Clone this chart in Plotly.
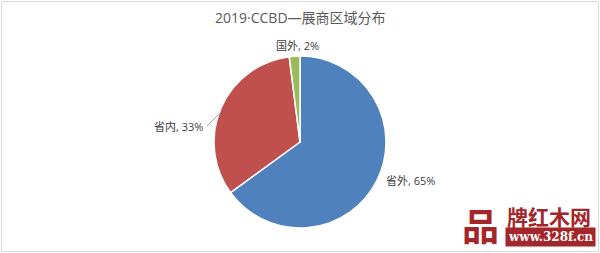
import math
import plotly.graph_objects as go

labels = ["省外", "省内", "国外"]
values = [65, 33, 2]
colors = ["#4F81BD", "#C0504D", "#9BBB59"]
title = "2019·CCBD—展商区域分布"

W, H = 600, 253
ML, MR, MT, MB = 0, 0, 56, 25
PW, PH = W - ML - MR, H - MT - MB

def px(x):
    return (x - ML) / PW

def py(y):
    return (H - MB - y) / PH

FONT = "Open Sans, Noto Sans CJK SC"

fig = go.Figure(go.Pie(
    labels=labels, values=values, sort=False, direction="clockwise", rotation=0,
    marker=dict(colors=colors, line=dict(color="white", width=1.5)),
    textinfo="none", hoverinfo="label+percent", showlegend=False,
    domain=dict(x=[0, 1], y=[0, 1]),
))

label_pos = [(410, 180), (178, 127), (297, 46)]
anns = []
for (lx, ly), lab, v in zip(label_pos, labels, values):
    anns.append(dict(x=px(lx), y=py(ly), xref="paper", yref="paper",
                     xanchor="center", yanchor="middle",
                     text=f"{lab}, {v}%", showarrow=False,
                     font=dict(size=11, color="#404040", family=FONT)))

anns.append(dict(x=px(300), y=py(17), xref="paper", yref="paper", text=title, showarrow=False,
                 xanchor="center", yanchor="middle",
                 font=dict(size=14, color="#595959", family=FONT)))

# watermark approximation
RED = "#A3262A"
anns.append(dict(x=px(480), y=py(225), xref="paper", yref="paper", text="<b>品</b>", showarrow=False,
                 xanchor="center", yanchor="middle",
                 font=dict(size=37, color=RED, family="Noto Sans CJK SC")))
anns.append(dict(x=px(549), y=py(216), xref="paper", yref="paper", text="<b>牌红木网</b>", showarrow=False,
                 xanchor="center", yanchor="middle",
                 font=dict(size=21, color=RED, family="Noto Sans CJK SC")))
anns.append(dict(x=px(550), y=py(237), xref="paper", yref="paper", text="<b>www.328f.cn</b>", showarrow=False,
                 xanchor="center", yanchor="middle",
                 bgcolor=RED, borderpad=2,
                 font=dict(size=12, color="white", family="DejaVu Serif")))

shapes = [
    dict(type="line", xref="paper", yref="paper", x0=px(207), y0=py(126), x1=px(221), y1=py(112),
         line=dict(color="#A6A6A6", width=1)),
    dict(type="rect", xref="paper", yref="paper", x0=px(1.5), y0=py(1.5), x1=px(598.5), y1=py(251.5),
         line=dict(color="#D9D9D9", width=1)),
]

fig.update_layout(
    width=W, height=H, margin=dict(l=ML, r=MR, t=MT, b=MB),
    paper_bgcolor="white", plot_bgcolor="white",
    annotations=anns, shapes=shapes,
)

fig.write_html("out.html")
